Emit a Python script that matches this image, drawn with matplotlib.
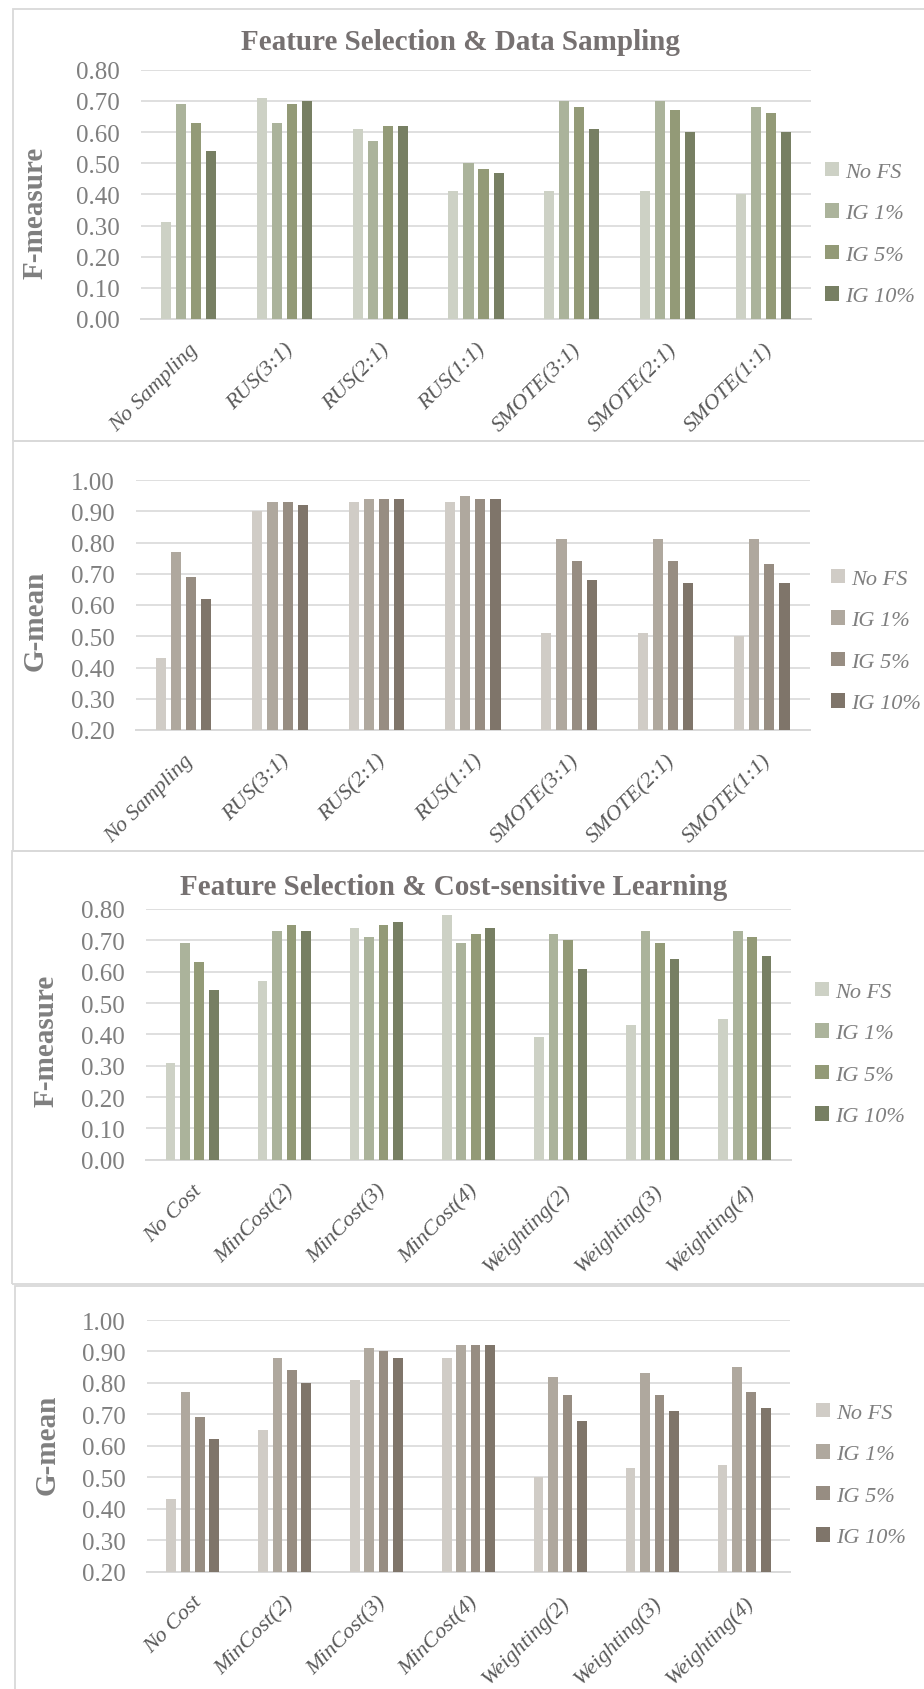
import matplotlib

matplotlib.use("Agg")
import matplotlib.pyplot as plt
from matplotlib.patches import Patch, Rectangle
import numpy as np

W, H = 924, 1690

SERIES = ["No FS", "IG 1%", "IG 5%", "IG 10%"]
GREENS = ["#CDD1C5", "#ABB39B", "#939A77", "#777F63"]
GREYS = ["#D0CCC6", "#AFA89E", "#978D82", "#7F756A"]

SAMPLING_CATS = ["No Sampling", "RUS(3:1)", "RUS(2:1)", "RUS(1:1)", "SMOTE(3:1)", "SMOTE(2:1)", "SMOTE(1:1)"]
COST_CATS = ["No Cost", "MinCost(2)", "MinCost(3)", "MinCost(4)", "Weighting(2)", "Weighting(3)", "Weighting(4)"]

SAMPLING_F = [
    [0.31, 0.71, 0.61, 0.41, 0.41, 0.41, 0.40],
    [0.69, 0.63, 0.57, 0.50, 0.70, 0.70, 0.68],
    [0.63, 0.69, 0.62, 0.48, 0.68, 0.67, 0.66],
    [0.54, 0.70, 0.62, 0.47, 0.61, 0.60, 0.60],
]
SAMPLING_G = [
    [0.43, 0.90, 0.93, 0.93, 0.51, 0.51, 0.50],
    [0.77, 0.93, 0.94, 0.95, 0.81, 0.81, 0.81],
    [0.69, 0.93, 0.94, 0.94, 0.74, 0.74, 0.73],
    [0.62, 0.92, 0.94, 0.94, 0.68, 0.67, 0.67],
]
COST_F = [
    [0.31, 0.57, 0.74, 0.78, 0.39, 0.43, 0.45],
    [0.69, 0.73, 0.71, 0.69, 0.72, 0.73, 0.73],
    [0.63, 0.75, 0.75, 0.72, 0.70, 0.69, 0.71],
    [0.54, 0.73, 0.76, 0.74, 0.61, 0.64, 0.65],
]
COST_G = [
    [0.43, 0.65, 0.81, 0.88, 0.50, 0.53, 0.54],
    [0.77, 0.88, 0.91, 0.92, 0.82, 0.83, 0.85],
    [0.69, 0.84, 0.90, 0.92, 0.76, 0.76, 0.77],
    [0.62, 0.80, 0.88, 0.92, 0.68, 0.71, 0.72],
]

FONT = "Liberation Serif"
GRID = "#D9D9D9"
TICK_GREY = "#7F7F7F"
LABEL_GREY = "#595959"


def fx(px):
    return px / W


def fy(px):
    return 1 - px / H


def draw_panel(fig, rect_px, cats, values, colors, ylim, ylabel, ylabel_pos, legend_pos):
    left, top, right, bottom = rect_px
    ax = fig.add_axes([fx(left), fy(bottom), fx(right - left), (bottom - top) / H])
    x = np.arange(len(cats))
    pitch, width = 0.157, 0.105
    for i, (vals, color) in enumerate(zip(values, colors)):
        ax.bar(x + (i - 1.5) * pitch, vals, width=width, color=color, zorder=3)

    ax.set_xlim(-0.5, len(cats) - 0.5)
    ax.set_ylim(*ylim)
    ax.set_yticks(np.arange(ylim[0], ylim[1] + 0.001, 0.1))
    ax.yaxis.set_major_formatter(matplotlib.ticker.FormatStrFormatter("%.2f"))
    ax.grid(axis="y", color=GRID, linewidth=1.2, zorder=0)
    ax.set_axisbelow(True)
    for side in ["top", "right", "left"]:
        ax.spines[side].set_visible(False)
    ax.spines["bottom"].set_color(GRID)
    ax.spines["bottom"].set_linewidth(1.4)
    ax.tick_params(axis="both", length=0)
    ax.tick_params(axis="y", pad=15, labelsize=18, labelcolor=TICK_GREY)
    ax.tick_params(axis="x", pad=15)
    for lab in ax.get_yticklabels():
        lab.set_fontfamily(FONT)
    ax.set_xticks(x)
    ax.set_xticklabels(cats, rotation=45, ha="right", rotation_mode="anchor",
                       fontsize=16, fontstyle="italic", color=LABEL_GREY, family=FONT)

    fig.text(fx(ylabel_pos[0]), fy(ylabel_pos[1]), ylabel, rotation=90, ha="center", va="center",
             fontsize=21, fontweight="bold", color=TICK_GREY, family=FONT)

    handles = [Patch(facecolor=c, edgecolor="none", label=s) for s, c in zip(SERIES, colors)]
    leg = ax.legend(handles=handles, loc="center left", bbox_to_anchor=(fx(legend_pos[0]), fy(legend_pos[1])),
                    bbox_transform=fig.transFigure, frameon=False, borderpad=0, borderaxespad=0,
                    handlelength=0.62, handleheight=0.62, handletextpad=0.3, labelspacing=0.97,
                    prop={"family": FONT, "style": "italic", "size": 16})
    for t in leg.get_texts():
        t.set_color(TICK_GREY)
    return ax


def frame(fig, left, top, bottom):
    fig.add_artist(Rectangle((fx(left), fy(bottom)), 1.2, (bottom - top) / H, transform=fig.transFigure,
                             fill=False, edgecolor=GRID, linewidth=1.3))


def main() -> None:
    fig = plt.figure(figsize=(W / 100, H / 100), dpi=100)

    frame(fig, 13, 10, 442)
    frame(fig, 13, 442, 852)
    frame(fig, 12, 852, 1285)
    frame(fig, 15, 1287, 1700)

    fig.text(fx(460), fy(42), "Feature Selection & Data Sampling", ha="center", va="center",
             fontsize=21, fontweight="bold", color="#767171", family=FONT)
    fig.text(fx(454), fy(888), "Feature Selection & Cost-sensitive Learning", ha="center", va="center",
             fontsize=21, fontweight="bold", color="#767171", family=FONT)

    draw_panel(fig, (141, 70.7, 811, 320), SAMPLING_CATS, SAMPLING_F, GREENS, (0.0, 0.8),
               "F-measure", (35, 213), (825, 235))
    draw_panel(fig, (135.5, 481, 810, 731), SAMPLING_CATS, SAMPLING_G, GREYS, (0.2, 1.0),
               "G-mean", (35, 621), (831, 642))
    draw_panel(fig, (146, 910, 791, 1160.7), COST_CATS, COST_F, GREENS, (0.0, 0.8),
               "F-measure", (46, 1041), (815, 1055))
    draw_panel(fig, (146.7, 1321, 790, 1572.5), COST_CATS, COST_G, GREYS, (0.2, 1.0),
               "G-mean", (47, 1445), (816, 1476))

    fig.savefig("out.png", dpi=100, facecolor="white")


if __name__ == "__main__":
    main()
